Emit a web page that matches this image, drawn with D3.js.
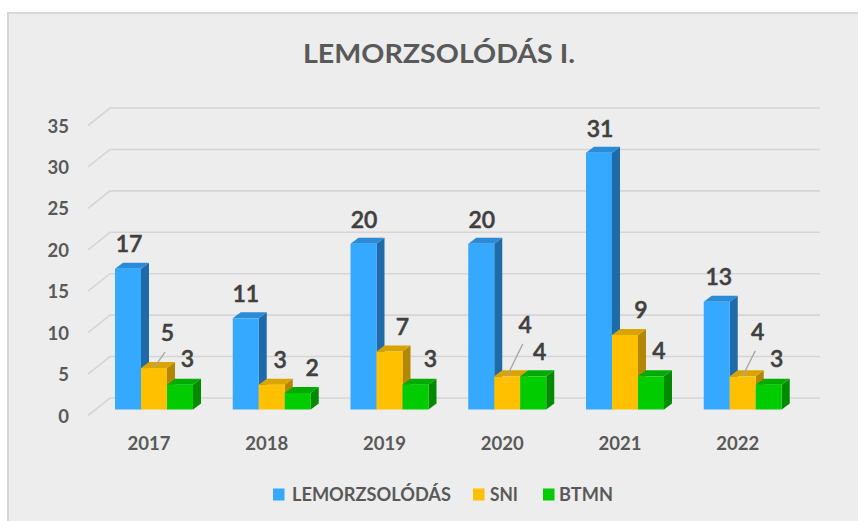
<!DOCTYPE html>
<html>
<head>
<meta charset="utf-8">
<script src="https://cdn.jsdelivr.net/npm/d3@7"></script>
<style>
  html, body { margin: 0; padding: 0; background: #ffffff; }
  svg { display: block; }
  text { font-family: Lato, "Open Sans", sans-serif; }
</style>
</head>
<body>
<svg id="chart" width="858" height="521"></svg>
<script>
// ---- data ----
const categories = ["2017", "2018", "2019", "2020", "2021", "2022"];
const seriesNames = ["LEMORZSOLÓDÁS", "SNI", "BTMN"];
const lemorzsolodas = [17, 11, 20, 20, 31, 13];
const sni = [5, 3, 7, 4, 9, 4];
const btmn = [3, 2, 3, 4, 4, 3];
const yTicks = [0, 5, 10, 15, 20, 25, 30, 35];
const titleText = "LEMORZSOLÓDÁS I.";

// ---- layout / style ----
const seriesValues = [lemorzsolodas, sni, btmn];
const colors = [
  { front: "#35a9ff", top: "#2b8bd6", side: "#1f6aa8" },
  { front: "#ffc000", top: "#d9a400", side: "#b38700" },
  { front: "#00cc00", top: "#00aa00", side: "#008a00" }
];
// label nudges [dx from bar center, dy of baseline from bar top], per series per category
const labelNudge = [
  [[1, -16.5], [0, -16.5], [0.5, -16], [0.5, -16], [1, -16], [2, -16.5]],
  [[13.5, -27], [8.5, -16.5], [13, -16.5], [18, -43.5], [16, -17], [15, -36.5]],
  [[7.5, -17.5], [14.5, -17], [15, -17.5], [6.5, -16.5], [8, -17.5], [8, -17.5]]
];
const leaderLines = [[1, 0], [1, 3], [1, 5]]; // [series, category]

const svg = d3.select("#chart");

// panel background
svg.append("rect").attr("x", 8).attr("y", 13).attr("width", 858).attr("height", 520)
  .attr("fill", "#ededed").attr("stroke", "#d6d6d6").attr("stroke-width", 2);

const x = d3.scalePoint().domain(categories).range([149, 737.75]);
const yBar = d3.scaleLinear().domain([0, 35]).range([409.5, 119.5]);
const yBack = d3.scaleLinear().domain([0, 35]).range([398, 108]);
const yFrontGrid = d3.scaleLinear().domain([0, 35]).range([415.5, 125.5]);

const barW = 26, depthX = 8, depthY = -6;
const gx0 = 88, gx1 = 110, gxEnd = 820;

// gridlines
const grid = svg.append("g");
yTicks.forEach(t => {
  grid.append("path")
    .attr("d", `M${gx0},${yFrontGrid(t)} L${gx1},${yBack(t)} L${gxEnd},${yBack(t)}`)
    .attr("fill", "none").attr("stroke", "#d5d5d5").attr("stroke-width", 1.6);
});

// y tick labels
svg.append("g").selectAll("text").data(yTicks).join("text")
  .attr("x", 69).attr("y", d => yFrontGrid(d) + 7)
  .attr("text-anchor", "end")
  .attr("font-size", 18.5).attr("font-weight", "bold").attr("fill", "#595959")
  .text(d => d);

// bars
const bars = svg.append("g");
categories.forEach((c, ci) => {
  const start = x(c) - 34;
  seriesValues.forEach((vals, si) => {
    const v = vals[ci];
    const x0 = start + si * barW, x1 = x0 + barW;
    const yt = yBar(v), yb = yBar(0);
    const col = colors[si];
    bars.append("path")
      .attr("d", `M${x1},${yb} L${x1 + depthX},${yb + depthY} L${x1 + depthX},${yt + depthY} L${x1},${yt} Z`)
      .attr("fill", col.side);
    bars.append("path")
      .attr("d", `M${x0},${yt} L${x0 + depthX},${yt + depthY} L${x1 + depthX},${yt + depthY} L${x1},${yt} Z`)
      .attr("fill", col.top);
    bars.append("rect")
      .attr("x", x0).attr("y", yt).attr("width", barW).attr("height", yb - yt)
      .attr("fill", col.front);
  });
});

// leader lines
leaderLines.forEach(([si, ci]) => {
  const c = categories[ci];
  const v = seriesValues[si][ci];
  const cx = x(c) - 34 + si * barW + barW / 2;
  const [dx, dy] = labelNudge[si][ci];
  const lx = cx + dx, ly = yBar(v) + dy;
  svg.append("line")
    .attr("x1", lx - 2.5).attr("y1", ly + 11)
    .attr("x2", cx).attr("y2", yBar(v) - 0.5)
    .attr("stroke", "#a6a6a6").attr("stroke-width", 1.3);
});

// data labels
const labels = svg.append("g");
seriesValues.forEach((vals, si) => {
  vals.forEach((v, ci) => {
    const cx = x(categories[ci]) - 34 + si * barW + barW / 2;
    const [dx, dy] = labelNudge[si][ci];
    labels.append("text")
      .attr("x", cx + dx).attr("y", yBar(v) + dy)
      .attr("text-anchor", "middle")
      .attr("font-size", 23).attr("font-weight", "600").attr("fill", "#404040")
      .attr("stroke", "#404040").attr("stroke-width", 0.5)
      .text(v);
  });
});

// x axis labels
svg.append("g").selectAll("text").data(categories).join("text")
  .attr("x", d => x(d)).attr("y", 450)
  .attr("text-anchor", "middle")
  .attr("font-size", 18.5).attr("font-weight", "bold").attr("fill", "#595959")
  .text(d => d);

// title
svg.append("text")
  .attr("x", 439).attr("y", 63).attr("text-anchor", "middle")
  .attr("font-size", 27.5).attr("font-weight", "bold").attr("fill", "#595959")
  .attr("textLength", 272).attr("lengthAdjust", "spacingAndGlyphs")
  .text(titleText);

// legend
const legendSquares = [273, 473, 543];
const legendTexts = [292, 490, 559];
const legendWidths = [159, 28, 54];
const legend = svg.append("g");
seriesNames.forEach((name, i) => {
  legend.append("rect")
    .attr("x", legendSquares[i]).attr("y", 488.5).attr("width", 11.5).attr("height", 12)
    .attr("fill", colors[i].front);
  legend.append("text")
    .attr("x", legendTexts[i]).attr("y", 501)
    .attr("font-size", 18).attr("font-weight", "bold").attr("fill", "#595959")
    .attr("textLength", legendWidths[i]).attr("lengthAdjust", "spacingAndGlyphs")
    .text(name);
});
</script>
</body>
</html>
